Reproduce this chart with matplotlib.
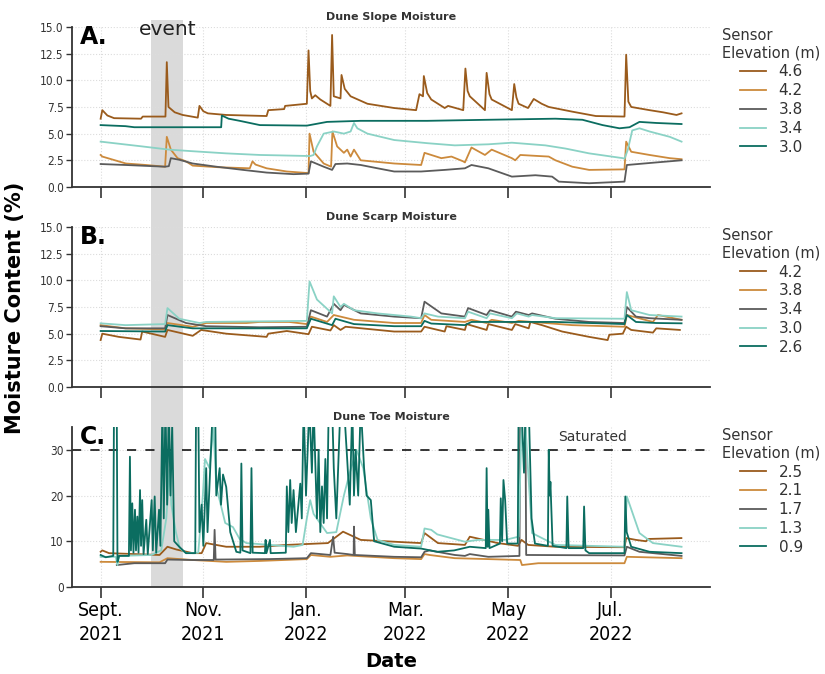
import matplotlib

matplotlib.use("Agg")
import matplotlib.pyplot as plt  # noqa: E402
import matplotlib.dates as mdates  # noqa: E402
import pandas as pd  # noqa: E402
from matplotlib.patches import Rectangle  # noqa: E402
from matplotlib.transforms import blended_transform_factory  # noqa: E402

# day offsets from START, moisture (%)
START = pd.Timestamp("2021-09-01")
EVENT = ("2021-10-01", "2021-10-20")
TICK_DATES = ["2021-09-01", "2021-11-01", "2022-01-01", "2022-03-01", "2022-05-01", "2022-07-01"]
TICK_LABELS = ["Sept.\n2021", "Nov.\n2021", "Jan.\n2022", "Mar.\n2022", "May\n2022", "Jul.\n2022"]

slope_labels = ["4.6", "4.2", "3.8", "3.4", "3.0"]
scarp_labels = ["4.2", "3.8", "3.4", "3.0", "2.6"]
toe_labels = ["2.5", "2.1", "1.7", "1.3", "0.9"]

slope_46 = [(0, 6.4), (1, 7.2), (4, 6.7), (8, 6.45), (24, 6.4), (25, 6.6), (38.5, 6.6), (39.3, 11.7),
            (40.3, 7.5), (44, 7.0), (48.7, 6.75), (57.7, 6.5), (58.7, 7.6), (61, 7.1), (63.7, 6.9),
            (74.6, 6.75), (98.6, 6.65), (99.6, 7.2), (109, 7.3), (109.6, 7.6), (122.5, 7.8), (123.5, 12.8),
            (124.5, 9.0), (125.5, 8.3), (127.5, 8.6), (130.5, 8.2), (136.5, 7.6), (137.5, 14.25),
            (138.5, 8.5), (142.5, 8.3), (143.1, 10.5), (145, 9.2), (148.5, 8.5), (158.5, 7.8),
            (174.4, 7.4), (187.4, 7.2), (189.4, 8.7), (191.5, 8.5), (192, 10.4), (194, 8.8), (196.4, 8.2),
            (204.4, 7.4), (206.4, 7.6), (215.4, 7.2), (216.7, 11.1), (218, 9.0), (219.3, 8.5),
            (228.3, 7.2), (229.3, 10.7), (231, 8.7), (232.3, 8.2), (244.3, 7.2), (245.7, 9.65),
            (247, 8.4), (248.3, 7.8), (253.9, 7.4), (257.3, 8.25), (262, 7.8), (266.2, 7.5),
            (280.2, 7.06), (294.2, 6.65), (311.2, 6.6), (312.2, 12.4), (313.5, 8.0), (315.2, 7.5),
            (326.1, 7.2), (334.1, 7.0), (342.1, 6.75), (345.1, 6.9)]
slope_42 = [(0, 3.0), (1, 2.85), (15, 2.2), (27, 2.06), (38.3, 1.9), (39.3, 4.7), (41.7, 3.5),
            (45.7, 2.7), (50.7, 2.4), (54.7, 2.0), (70, 1.85), (88.6, 1.75), (90.2, 2.4), (92, 2.1),
            (98.6, 1.75), (110.6, 1.45), (123.5, 1.3), (124.1, 5.0), (126.5, 3.3), (132.5, 2.2),
            (136.9, 1.9), (137.7, 5.2), (140.5, 3.8), (144.5, 3.2), (146.5, 3.5), (148.5, 2.85),
            (150.5, 3.5), (154.5, 2.5), (174.4, 2.2), (190.4, 2.06), (192.4, 3.2), (196.4, 3.0),
            (202.4, 2.7), (208.4, 2.85), (215.4, 2.4), (216.4, 2.3), (220.3, 3.7), (228.3, 3.0),
            (232.3, 3.5), (244.3, 2.7), (246.3, 2.5), (249.3, 3.0), (260.3, 2.9), (266.2, 2.85),
            (270.2, 2.5), (280.2, 1.9), (290.2, 1.6), (311.2, 1.65), (312.2, 4.25), (315.2, 3.3),
            (326.1, 3.0), (338.1, 2.7), (345.1, 2.6)]
slope_38 = [(0, 2.15), (15, 2.06), (38.3, 1.9), (40.5, 1.95), (41.7, 2.7), (46.7, 2.55), (54.7, 2.2),
            (68.7, 1.9), (84.6, 1.6), (98.6, 1.35), (114.6, 1.2), (123.5, 1.25), (124.9, 2.4),
            (132.5, 1.9), (137.5, 1.6), (139.5, 2.15), (146.5, 2.2), (154.5, 2.06), (164.5, 1.75),
            (174.4, 1.45), (190.4, 1.45), (204.4, 1.6), (216.4, 1.75), (220.3, 2.06), (230.3, 1.75),
            (244.3, 0.97), (258.3, 1.1), (268.2, 0.97), (272.2, 0.5), (290.2, 0.35), (311.2, 0.5),
            (312.6, 2.06), (330.1, 2.3), (345.1, 2.5)]
slope_34 = [(0, 4.25), (24.7, 3.8), (40.7, 3.5), (54.7, 3.35), (74.6, 3.15), (94.6, 3.0), (124.5, 2.9),
            (126.5, 3.0), (128.5, 3.8), (132.5, 5.0), (138.5, 5.2), (144.5, 5.0), (148.5, 5.2),
            (150.5, 6.0), (152.5, 5.5), (158.5, 5.0), (174.4, 4.4), (194.4, 4.1), (210.4, 3.9),
            (230.3, 4.0), (244.3, 4.15), (264.2, 3.9), (276.2, 3.6), (290.2, 3.15), (310.2, 2.7),
            (311.2, 2.65), (313.2, 3.5), (315.8, 5.3), (320.1, 5.5), (326.1, 5.2), (338.1, 4.7),
            (345.1, 4.25)]
slope_30 = [(0, 5.8), (14.8, 5.7), (20, 5.6), (71.6, 5.6), (72.0, 6.7), (76, 6.4), (82.6, 6.2),
            (94.6, 5.8), (122.5, 5.75), (134.5, 6.1), (154.5, 6.2), (194, 6.2), (230.3, 6.3),
            (270.2, 6.4), (286.2, 6.3), (298.2, 5.8), (308.2, 5.5), (314.2, 5.6), (320.1, 6.1),
            (330.1, 6.0), (345.1, 5.9)]

scarp_42 = [(0, 4.4), (1, 5.0), (10.8, 4.7), (23.7, 4.45), (24.7, 5.2), (38.3, 4.7), (39.7, 5.35),
            (54.7, 4.8), (59.7, 5.35), (74.6, 5.0), (98.6, 4.7), (99.6, 5.0), (110.6, 5.25),
            (123.5, 4.95), (125.5, 5.65), (136.5, 5.3), (138.5, 5.8), (142.5, 5.35), (145.5, 5.65),
            (174.4, 5.2), (190.4, 5.2), (192.4, 5.65), (204.4, 5.2), (205.4, 5.7), (216.4, 5.35),
            (217.4, 5.9), (229.3, 5.35), (230.3, 5.9), (244.3, 5.35), (246.3, 5.9), (254.3, 5.5),
            (255.3, 6.1), (262.2, 5.8), (274.2, 5.2), (290.2, 4.7), (301.2, 4.4), (302.2, 4.9),
            (310.2, 5.0), (312.2, 5.65), (315.2, 5.35), (328.1, 5.1), (330.1, 5.5), (344.1, 5.35)]
scarp_38 = [(0, 5.8), (14.8, 5.5), (38.3, 5.4), (39.7, 6.0), (54.7, 5.65), (58.7, 5.8), (62.7, 6.0),
            (86.6, 6.0), (94.6, 6.1), (112, 6.1), (122.5, 5.9), (124.9, 6.6), (134.5, 6.1),
            (138.5, 6.75), (150.5, 6.3), (174.4, 6.0), (190.4, 6.0), (192.4, 6.75), (196.4, 6.3),
            (216.4, 6.1), (220.3, 6.3), (229.3, 6.0), (232.3, 6.3), (244.3, 6.0), (248.3, 6.2),
            (280.2, 5.8), (311.2, 5.65), (312.6, 6.75), (328.1, 6.1), (331.1, 6.75), (345.1, 6.3)]
scarp_34 = [(0, 5.7), (14.8, 5.5), (38.3, 5.5), (39.7, 6.75), (50.7, 6.0), (62.7, 5.7), (94.6, 5.6),
            (122.5, 5.65), (124.9, 7.2), (134.5, 6.6), (138.5, 7.8), (142.5, 7.2), (144.5, 7.7),
            (154.5, 6.9), (174.4, 6.6), (190.4, 6.45), (192.4, 8.0), (202.4, 6.9), (216.4, 6.6),
            (218.3, 7.4), (229.3, 6.75), (231.3, 7.2), (244.3, 6.6), (246.7, 7.06), (254.3, 6.75),
            (256.3, 6.9), (270.2, 6.4), (290.2, 6.1), (311.2, 6.0), (312.6, 7.5), (318, 6.6),
            (326.1, 6.45), (345.1, 6.3)]
scarp_30 = [(0, 5.97), (14.8, 5.8), (38.3, 5.9), (39.7, 7.4), (46.7, 6.4), (58.7, 6.0), (62.7, 6.1),
            (122.5, 6.2), (124.1, 9.9), (128.5, 8.2), (137.5, 6.9), (138.5, 8.5), (142.5, 7.5),
            (144.5, 7.8), (150.5, 7.2), (164.5, 6.9), (184.4, 6.6), (190.4, 6.45), (192.4, 6.9),
            (200.4, 6.6), (216.4, 6.45), (218.3, 7.06), (229.3, 6.45), (231.3, 6.9), (244.3, 6.45),
            (247.3, 6.9), (254.3, 6.6), (256.3, 6.75), (270.2, 6.45), (311.2, 6.4), (312.6, 8.9),
            (315.2, 7.2), (326.1, 6.75), (345.1, 6.6)]
scarp_26 = [(0, 5.25), (38.3, 5.2), (39.7, 5.8), (54.7, 5.5), (122.5, 5.5), (124.9, 6.4), (137.5, 5.8),
            (139.5, 6.4), (150.5, 5.9), (174.4, 5.7), (190.4, 5.7), (192.4, 6.2), (196.4, 5.95),
            (216.4, 5.8), (220.3, 6.1), (270.2, 6.1), (290.2, 6.0), (311.2, 5.9), (312.6, 6.75),
            (318, 6.1), (330.1, 6.0), (345.1, 5.97)]

toe_25 = [(0, 7.7), (1, 8.0), (5, 7.4), (35, 7.0), (39.7, 8.8), (45, 8.2), (54.7, 7.4), (60, 7.4),
          (62.7, 9.6), (74.6, 8.8), (94.6, 8.8), (110.6, 9.2), (122.5, 9.4), (135, 9.6), (144, 12.1),
          (154.5, 10.3), (174.4, 9.9), (190.4, 9.6), (192.4, 11.8), (200.4, 9.6), (216.4, 9.2),
          (219.3, 11.0), (236, 9.6), (248, 9.0), (250, 10.3), (254, 9.2), (270, 8.8), (311.2, 8.7),
          (312.2, 10.7), (318, 10.3), (324, 10.0), (325, 10.5), (345, 10.7)]
toe_21 = [(0, 5.5), (35, 5.4), (39.7, 6.3), (54.7, 5.9), (74.6, 5.5), (94.6, 5.7), (122.5, 6.1),
          (124.9, 7.0), (136.5, 6.6), (146.5, 6.9), (174.4, 6.3), (190.4, 6.1), (192.4, 7.2),
          (195.4, 7.0), (210.4, 6.3), (230.3, 6.1), (249.3, 5.9), (250.3, 4.8), (260, 5.2),
          (311.2, 5.2), (312.6, 6.6), (345.1, 6.3)]
toe_17 = [(9.6, 4.8), (20, 5.2), (38.3, 5.2), (39.7, 6.0), (54.7, 5.9), (67.2, 5.9), (67.7, 12.5),
          (68.3, 6.0), (100, 6.1), (122.5, 6.3), (124.9, 7.4), (136.5, 7.0), (138.1, 11), (139, 7.5),
          (146.5, 7.2), (150.3, 7.0), (150.5, 13.2), (151, 7.0), (174.4, 6.6), (190.4, 6.5),
          (192.4, 7.7), (195.4, 8.0), (210.4, 7.0), (216.4, 6.8), (219.3, 7.2), (230.3, 6.6),
          (248.8, 6.8), (249.3, 40), (252.3, 40), (252.8, 7.0), (254.3, 7.0), (311.2, 6.9),
          (312.6, 8.8), (320.1, 7.7), (345.1, 6.8)]
toe_13 = [(0, 6.6), (9, 6.6), (10, 4.8), (11, 6.8), (30, 7.0), (36, 8), (39, 15), (41, 25.6), (42, 18),
          (44.7, 12), (47, 8.5), (50.7, 7.4), (58, 7.5), (60.7, 20), (62, 28), (64.7, 26), (67, 35),
          (68.7, 22), (70.7, 19), (74, 14), (78.6, 13.1), (82.6, 10.5), (86.6, 9.6), (114.6, 8.8),
          (120, 9.2), (122.5, 15), (124.5, 19), (126.5, 16), (134.5, 11.8), (140, 12), (144.5, 20),
          (148, 25), (152, 30), (156, 26), (160.5, 15), (164.5, 10.3), (174.4, 9.2), (190.4, 8.8),
          (192.4, 12.8), (196.4, 12.5), (200, 11.5), (216.4, 9.9), (224.3, 10.3), (240.3, 10.3),
          (248.3, 11), (250, 35), (252, 38), (254, 25), (256.3, 11.8), (270.2, 9.2), (311.2, 8.8),
          (312.6, 19.8), (320.1, 11.8), (328.1, 9.6), (345.1, 8.8)]
toe_09 = [(0, 7.0), (3, 6.5), (7.5, 6.8), (8, 45), (9.5, 45), (10, 5.5), (11, 6.8), (16.8, 6.8),
          (17.4, 28.5), (18, 8), (18.8, 18.3), (19.5, 7.5), (20.4, 16.9), (21, 8), (21.8, 15.4),
          (22.5, 7.5), (23.4, 21.2), (24, 9), (24.7, 19), (25.5, 7.2), (27.1, 14.7), (28, 7.2),
          (30.3, 19), (31, 8), (32.1, 19.8), (33, 7.5), (34.7, 16.9), (35.5, 9), (36.7, 40),
          (37.5, 15), (38.5, 40), (39.5, 18), (40.5, 40), (41.5, 20), (42.5, 35.5), (43.7, 10),
          (46.7, 8.8), (50.7, 7.4), (56.2, 7.4), (56.7, 40), (58, 40), (58.7, 12), (60, 18), (61, 9),
          (62.7, 26), (63.5, 12), (66.7, 40), (68, 40), (68.7, 20), (70.7, 26), (71.5, 18),
          (72.7, 24.6), (74.6, 21.9), (77, 12), (80.6, 7.7), (83, 7.5), (83.6, 27), (84.3, 8),
          (89, 7.4), (89.6, 26), (90.3, 7.5), (97.6, 7.4), (98, 10.3), (98.5, 7.4), (100.6, 10.3),
          (101, 7.4), (110, 7.5), (110.6, 22), (111.5, 12), (112.6, 23.4), (113.5, 14), (114.6, 21.2),
          (116, 12), (118.6, 22.6), (119.5, 15), (120.6, 40), (122, 20), (124, 40), (125.5, 25),
          (126.5, 40), (128.5, 15), (129.5, 30), (130.5, 12), (131.5, 22), (132.5, 14), (133.5, 28),
          (134.5, 15), (135.5, 40), (137.5, 40), (138.5, 26), (140, 15),
          (142.5, 40), (144.5, 40), (146.5, 27.7), (148, 18), (149.5, 40), (150.5, 20), (151.5, 30),
          (153, 20), (154.5, 40), (156.5, 26), (158, 20), (160.5, 19), (162.5, 10), (174.4, 8.8),
          (190.4, 8.4), (200, 7.7), (210, 8.0), (219.3, 8.8), (228.8, 8.5), (229.3, 26), (229.9, 8.8),
          (230.3, 16.9), (231, 8.5), (237.2, 9.5), (237.7, 19.4), (238.5, 10), (239.3, 23.4),
          (240.3, 19), (241.5, 9.5), (247.8, 9.5), (248.3, 40), (250, 40), (251.5, 25), (252.5, 40),
          (254.3, 40), (256, 15), (258, 9.5), (265.7, 9), (266.2, 30), (266.8, 20), (267.2, 23),
          (268.5, 9), (276.7, 8.5), (277.2, 19.8), (278, 8.5), (286.7, 8.5), (287.2, 17.6),
          (288, 8.0), (290.2, 7.4), (311.2, 7.4), (311.7, 19.8), (312.5, 12), (315.2, 8.8),
          (326.1, 7.7), (345.1, 7.4)]

COLORS = ["#9a5b1c", "#cc8a3c", "#5b5b5b", "#8ad2c5", "#0b6d60"]
SPINE = "#333333"


def to_xy(points):
    days, vals = zip(*points)
    return START + pd.to_timedelta(list(days), unit="D"), list(vals)


def style_axis(ax, ymax, yticks, fmt):
    ax.set_facecolor("none")
    ax.set_xlim(START - pd.Timedelta(days=17), START + pd.Timedelta(days=362))
    ax.set_ylim(0, ymax)
    ax.set_yticks(yticks)
    ax.set_yticklabels([fmt.format(v) for v in yticks], fontsize=8.5, fontstretch="condensed")
    ax.set_xticks(pd.to_datetime(TICK_DATES))
    ax.grid(True, color="#dcdcdc", lw=0.8, ls=":")
    ax.set_axisbelow(True)
    for side in ("top", "right"):
        ax.spines[side].set_visible(False)
    for side in ("left", "bottom"):
        ax.spines[side].set_color(SPINE)
        ax.spines[side].set_linewidth(1.3)
    ax.tick_params(axis="x", length=8, width=1.2, color=SPINE, pad=2)
    ax.tick_params(axis="y", length=4, width=1.0, color=SPINE, labelcolor="#333333", pad=2)


def draw_panel(ax, series, labels, title, letter):
    for pts, lab, col in zip(series, labels, COLORS):
        x, y = to_xy(pts)
        ax.plot(x, y, color=col, lw=1.3, label=lab)
    ax.set_title(title, fontsize=8, fontweight="bold", color="#333333", pad=5)
    ax.text(0.012, 1.01, letter, transform=ax.transAxes, fontsize=17, fontweight="bold",
            va="top", ha="left")
    leg = ax.legend(loc="upper left", bbox_to_anchor=(1.01, 1.03), frameon=False, fontsize=11,
                    title="Sensor\nElevation (m)", title_fontsize=10.5, handlelength=1.7,
                    labelspacing=0.25, borderaxespad=0)
    leg.get_title().set_multialignment("left")
    leg.get_title().set_color("#333333")
    for t in leg.get_texts():
        t.set_color("#333333")


fig = plt.figure(figsize=(8.25, 6.74), dpi=100)
ax_a = fig.add_axes([0.0873, 0.7226, 0.7733, 0.2374])
ax_b = fig.add_axes([0.0873, 0.4258, 0.7733, 0.2374])
ax_c = fig.add_axes([0.0873, 0.1291, 0.7733, 0.2374])

slope_ticks = [0, 2.5, 5, 7.5, 10, 12.5, 15]
for ax in (ax_a, ax_b):
    style_axis(ax, 15, slope_ticks, "{:.1f}")
    ax.tick_params(labelbottom=False)
style_axis(ax_c, 35, [0, 10, 20, 30], "{:.0f}")
ax_c.set_xticklabels(TICK_LABELS, fontsize=14, fontstretch="condensed", linespacing=1.35)

draw_panel(ax_a, [slope_46, slope_42, slope_38, slope_34, slope_30], slope_labels,
           "Dune Slope Moisture", "A.")
draw_panel(ax_b, [scarp_42, scarp_38, scarp_34, scarp_30, scarp_26], scarp_labels,
           "Dune Scarp Moisture", "B.")
draw_panel(ax_c, [toe_25, toe_21, toe_17, toe_13, toe_09], toe_labels,
           "Dune Toe Moisture", "C.")

# saturation line
ax_c.axhline(30, color="black", lw=1.1, ls=(0, (6, 6)), zorder=1)
ax_c.text(START + pd.Timedelta(days=292), 31.2, "Saturated", ha="center", va="bottom",
          fontsize=10, color="#333333")

# event band spans all three panels
ev0, ev1 = mdates.date2num(pd.to_datetime(EVENT))
band = Rectangle((ev0, 1 - 587 / 674), ev1 - ev0, (587 - 20) / 674,
                 transform=blended_transform_factory(ax_c.transData, fig.transFigure),
                 facecolor="#dadada", edgecolor="none", zorder=-1)
fig.add_artist(band)
ax_a.text(START + pd.Timedelta(days=40), 14.2, "event", ha="center", va="baseline",
          fontsize=14.5, color="#222222")

fig.text(0.018, 0.543, "Moisture Content (%)", rotation=90, fontsize=15, fontweight="bold",
         ha="center", va="center")
ax_c.set_xlabel("Date", fontsize=14, fontweight="bold", labelpad=6)

fig.savefig("out.png", dpi=100)
